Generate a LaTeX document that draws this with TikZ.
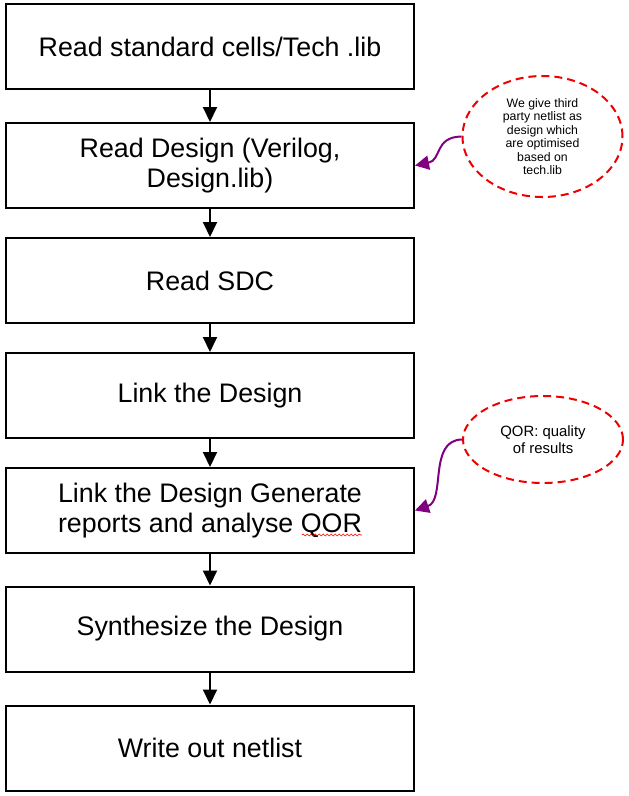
\documentclass[tikz,border=0pt]{standalone}
\usepackage{fontspec}
\setmainfont{Liberation Sans}
\usetikzlibrary{shapes.geometric,arrows.meta,decorations.pathmorphing}
\definecolor{linkpurple}{RGB}{128,0,128}
\definecolor{notered}{RGB}{238,0,0}
\begin{document}
\begin{tikzpicture}[x=1pt,y=-1pt,
  stepbox/.style={draw=black,line width=2pt,rectangle,minimum width=408pt,minimum height=85pt,inner sep=0pt,align=center,font=\fontsize{26.8}{30}\selectfont},
  flow/.style={draw=black,line width=2pt,-{Triangle[width=14pt,length=15pt]}},
  note/.style={draw=notered,line width=2pt,dash pattern=on 8pt off 5pt,ellipse,inner sep=0pt,align=center},
  link/.style={draw=linkpurple,line width=2pt,-{Triangle[width=14pt,length=14pt]},fill=none},
  squiggle/.style={draw=red,line width=0.6pt,decorate,decoration={snake,amplitude=1pt,segment length=4pt}}
]
\useasboundingbox (0,0) rectangle (629,796);
\node[stepbox] (b1) at (210,46.5) {Read standard cells/Tech .lib};
\node[stepbox] (b2) at (210,165.5) {Read Design (Verilog,\\Design.lib)};
\node[stepbox] (b3) at (210,280.5) {Read SDC};
\node[stepbox] (b4) at (210,395.5) {Link the Design};
\node[stepbox] (b5) at (210,510.5) {Link the Design Generate\\reports and analyse QOR};
\node[stepbox] (b6) at (210,629) {Synthesize the Design};
\node[stepbox] (b7) at (210,748) {Write out netlist};

\draw[flow] (b1) -- (b2);
\draw[flow] (b2) -- (b3);
\draw[flow] (b3) -- (b4);
\draw[flow] (b4) -- (b5);
\draw[flow] (b5) -- (b6);
\draw[flow] (b6) -- (b7);

\node[note,minimum width=160pt,minimum height=121pt,font=\fontsize{12.3}{13.4}\selectfont] (n1) at (542.5,136.5) {We give third\\party netlist as\\design which\\are optimised\\based on\\tech.lib};
\node[note,minimum width=160pt,minimum height=87pt,font=\fontsize{14.9}{17.3}\selectfont] (n2) at (543,439.5) {QOR: quality\\of results};

\draw[link] (n1.west) .. controls (434,137) and (442,160) .. (b2.east);
\draw[link] (n2.west) .. controls (428,440) and (446,500) .. (b5.east);

\draw[squiggle] (302,535) -- (362,535);
\end{tikzpicture}
\end{document}
